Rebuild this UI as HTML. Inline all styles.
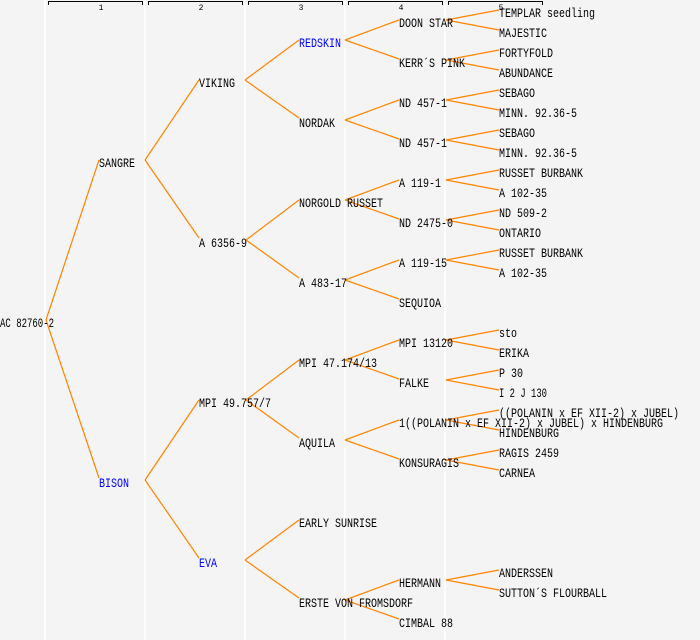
<!DOCTYPE html>
<html><head><meta charset="utf-8"><style>
html,body{margin:0;padding:0;background:#f4f4f4;}
svg{display:block;}
text{font-family:"Liberation Mono","DejaVu Sans Mono",monospace;font-size:13px;fill:#000;}
.h{font-size:8px;}
.b{fill:#0000ff;}
</style></head><body>
<svg width="700" height="640" viewBox="0 0 700 640" xmlns="http://www.w3.org/2000/svg">
<rect width="700" height="640" fill="#f4f4f4"/>
<g stroke="#ffffff" stroke-width="1.5">
<line x1="45" y1="0" x2="45" y2="640"/><line x1="145" y1="0" x2="145" y2="640"/><line x1="245" y1="0" x2="245" y2="640"/><line x1="345" y1="0" x2="345" y2="640"/><line x1="445" y1="0" x2="445" y2="640"/>
</g>
<g stroke="#000" stroke-width="1" fill="none">
<path d="M48.5 5V1.5H142.5V5"/><path d="M148.5 5V1.5H242.5V5"/><path d="M248.5 5V1.5H342.5V5"/><path d="M348.5 5V1.5H442.5V5"/><path d="M448.5 5V1.5H542.5V5"/>
</g>
<g class="h" text-anchor="middle">
<text class="h" x="101" y="10">1</text><text class="h" x="201" y="10">2</text><text class="h" x="301" y="10">3</text><text class="h" x="401" y="10">4</text><text class="h" x="501" y="10">5</text>
</g>
<g stroke="#ff8400" stroke-width="1.2" fill="none">
<line x1="46" y1="320" x2="99" y2="160"/><line x1="46" y1="320" x2="99" y2="478"/>
<line x1="145" y1="160" x2="199" y2="80"/><line x1="145" y1="160" x2="199" y2="238"/>
<line x1="145" y1="480" x2="199" y2="400"/><line x1="145" y1="480" x2="199" y2="558"/>
<line x1="245" y1="80" x2="299" y2="40"/><line x1="245" y1="80" x2="299" y2="118"/>
<line x1="246" y1="240" x2="299" y2="200"/><line x1="246" y1="240" x2="299" y2="278"/>
<line x1="246" y1="400" x2="299" y2="360"/><line x1="246" y1="400" x2="299" y2="438"/>
<line x1="245" y1="560" x2="299" y2="520"/><line x1="245" y1="560" x2="299" y2="598"/>
<line x1="345" y1="40" x2="399" y2="20"/><line x1="345" y1="40" x2="399" y2="59"/>
<line x1="345" y1="120" x2="399" y2="100"/><line x1="345" y1="120" x2="399" y2="139"/>
<line x1="345" y1="200" x2="399" y2="180"/><line x1="345" y1="200" x2="399" y2="219"/>
<line x1="345" y1="280" x2="399" y2="260"/><line x1="345" y1="280" x2="399" y2="299"/>
<line x1="345" y1="360" x2="399" y2="340"/><line x1="345" y1="360" x2="399" y2="379"/>
<line x1="345" y1="440" x2="399" y2="420"/><line x1="345" y1="440" x2="399" y2="459"/>
<line x1="345" y1="600" x2="399" y2="580"/><line x1="345" y1="600" x2="399" y2="619"/>
<line x1="446" y1="20" x2="499" y2="10"/><line x1="446" y1="20" x2="499" y2="30"/>
<line x1="446" y1="60" x2="499" y2="50"/><line x1="446" y1="60" x2="499" y2="70"/>
<line x1="446" y1="100" x2="499" y2="90"/><line x1="446" y1="100" x2="499" y2="110"/>
<line x1="446" y1="140" x2="499" y2="130"/><line x1="446" y1="140" x2="499" y2="150"/>
<line x1="446" y1="180" x2="499" y2="170"/><line x1="446" y1="180" x2="499" y2="190"/>
<line x1="446" y1="220" x2="499" y2="210"/><line x1="446" y1="220" x2="499" y2="230"/>
<line x1="446" y1="260" x2="499" y2="250"/><line x1="446" y1="260" x2="499" y2="270"/>
<line x1="446" y1="340" x2="499" y2="330"/><line x1="446" y1="340" x2="499" y2="350"/>
<line x1="446" y1="380" x2="499" y2="370"/><line x1="446" y1="380" x2="499" y2="390"/>
<line x1="446" y1="420" x2="499" y2="410"/><line x1="446" y1="420" x2="499" y2="430"/>
<line x1="446" y1="460" x2="499" y2="450"/><line x1="446" y1="460" x2="499" y2="470"/>
<line x1="446" y1="580" x2="499" y2="570"/><line x1="446" y1="580" x2="499" y2="590"/>
</g>
<g>
<text x="0" y="327" textLength="54" lengthAdjust="spacingAndGlyphs">AC 82760-2</text>
<text x="99" y="167" textLength="36" lengthAdjust="spacingAndGlyphs">SANGRE</text>
<text class="b" x="99" y="487" textLength="30" lengthAdjust="spacingAndGlyphs">BISON</text>
<text x="199" y="87" textLength="36" lengthAdjust="spacingAndGlyphs">VIKING</text>
<text x="199" y="247" textLength="48" lengthAdjust="spacingAndGlyphs">A 6356-9</text>
<text x="199" y="407" textLength="72" lengthAdjust="spacingAndGlyphs">MPI 49.757/7</text>
<text class="b" x="199" y="567" textLength="18" lengthAdjust="spacingAndGlyphs">EVA</text>
<text class="b" x="299" y="47" textLength="42" lengthAdjust="spacingAndGlyphs">REDSKIN</text>
<text x="299" y="127" textLength="36" lengthAdjust="spacingAndGlyphs">NORDAK</text>
<text x="299" y="207" textLength="84" lengthAdjust="spacingAndGlyphs">NORGOLD RUSSET</text>
<text x="299" y="287" textLength="48" lengthAdjust="spacingAndGlyphs">A 483-17</text>
<text x="299" y="367" textLength="78" lengthAdjust="spacingAndGlyphs">MPI 47.174/13</text>
<text x="299" y="447" textLength="36" lengthAdjust="spacingAndGlyphs">AQUILA</text>
<text x="299" y="527" textLength="78" lengthAdjust="spacingAndGlyphs">EARLY SUNRISE</text>
<text x="299" y="607" textLength="114" lengthAdjust="spacingAndGlyphs">ERSTE VON FROMSDORF</text>
<text x="399" y="27" textLength="54" lengthAdjust="spacingAndGlyphs">DOON STAR</text>
<text x="399" y="67" textLength="66" lengthAdjust="spacingAndGlyphs">KERR´S PINK</text>
<text x="399" y="107" textLength="48" lengthAdjust="spacingAndGlyphs">ND 457-1</text>
<text x="399" y="147" textLength="48" lengthAdjust="spacingAndGlyphs">ND 457-1</text>
<text x="399" y="187" textLength="42" lengthAdjust="spacingAndGlyphs">A 119-1</text>
<text x="399" y="227" textLength="54" lengthAdjust="spacingAndGlyphs">ND 2475-0</text>
<text x="399" y="267" textLength="48" lengthAdjust="spacingAndGlyphs">A 119-15</text>
<text x="399" y="307" textLength="42" lengthAdjust="spacingAndGlyphs">SEQUIOA</text>
<text x="399" y="347" textLength="54" lengthAdjust="spacingAndGlyphs">MPI 13120</text>
<text x="399" y="387" textLength="30" lengthAdjust="spacingAndGlyphs">FALKE</text>
<text x="399" y="427" textLength="264" lengthAdjust="spacingAndGlyphs">1((POLANIN x EF XII-2) x JUBEL) x HINDENBURG</text>
<text x="399" y="467" textLength="60" lengthAdjust="spacingAndGlyphs">KONSURAGIS</text>
<text x="399" y="587" textLength="42" lengthAdjust="spacingAndGlyphs">HERMANN</text>
<text x="399" y="627" textLength="54" lengthAdjust="spacingAndGlyphs">CIMBAL 88</text>
<text x="499" y="17" textLength="96" lengthAdjust="spacingAndGlyphs">TEMPLAR seedling</text>
<text x="499" y="37" textLength="48" lengthAdjust="spacingAndGlyphs">MAJESTIC</text>
<text x="499" y="57" textLength="54" lengthAdjust="spacingAndGlyphs">FORTYFOLD</text>
<text x="499" y="77" textLength="54" lengthAdjust="spacingAndGlyphs">ABUNDANCE</text>
<text x="499" y="97" textLength="36" lengthAdjust="spacingAndGlyphs">SEBAGO</text>
<text x="499" y="117" textLength="78" lengthAdjust="spacingAndGlyphs">MINN. 92.36-5</text>
<text x="499" y="137" textLength="36" lengthAdjust="spacingAndGlyphs">SEBAGO</text>
<text x="499" y="157" textLength="78" lengthAdjust="spacingAndGlyphs">MINN. 92.36-5</text>
<text x="499" y="177" textLength="84" lengthAdjust="spacingAndGlyphs">RUSSET BURBANK</text>
<text x="499" y="197" textLength="48" lengthAdjust="spacingAndGlyphs">A 102-35</text>
<text x="499" y="217" textLength="48" lengthAdjust="spacingAndGlyphs">ND 509-2</text>
<text x="499" y="237" textLength="42" lengthAdjust="spacingAndGlyphs">ONTARIO</text>
<text x="499" y="257" textLength="84" lengthAdjust="spacingAndGlyphs">RUSSET BURBANK</text>
<text x="499" y="277" textLength="48" lengthAdjust="spacingAndGlyphs">A 102-35</text>
<text x="499" y="337" textLength="18" lengthAdjust="spacingAndGlyphs">sto</text>
<text x="499" y="357" textLength="30" lengthAdjust="spacingAndGlyphs">ERIKA</text>
<text x="499" y="377" textLength="24" lengthAdjust="spacingAndGlyphs">P 30</text>
<text x="499" y="397" textLength="48" lengthAdjust="spacingAndGlyphs">I 2 J 130</text>
<text x="499" y="417" textLength="180" lengthAdjust="spacingAndGlyphs">((POLANIN x EF XII-2) x JUBEL)</text>
<text x="499" y="437" textLength="60" lengthAdjust="spacingAndGlyphs">HINDENBURG</text>
<text x="499" y="457" textLength="60" lengthAdjust="spacingAndGlyphs">RAGIS 2459</text>
<text x="499" y="477" textLength="36" lengthAdjust="spacingAndGlyphs">CARNEA</text>
<text x="499" y="577" textLength="54" lengthAdjust="spacingAndGlyphs">ANDERSSEN</text>
<text x="499" y="597" textLength="108" lengthAdjust="spacingAndGlyphs">SUTTON´S FLOURBALL</text>
</g>
</svg>
</body></html>
